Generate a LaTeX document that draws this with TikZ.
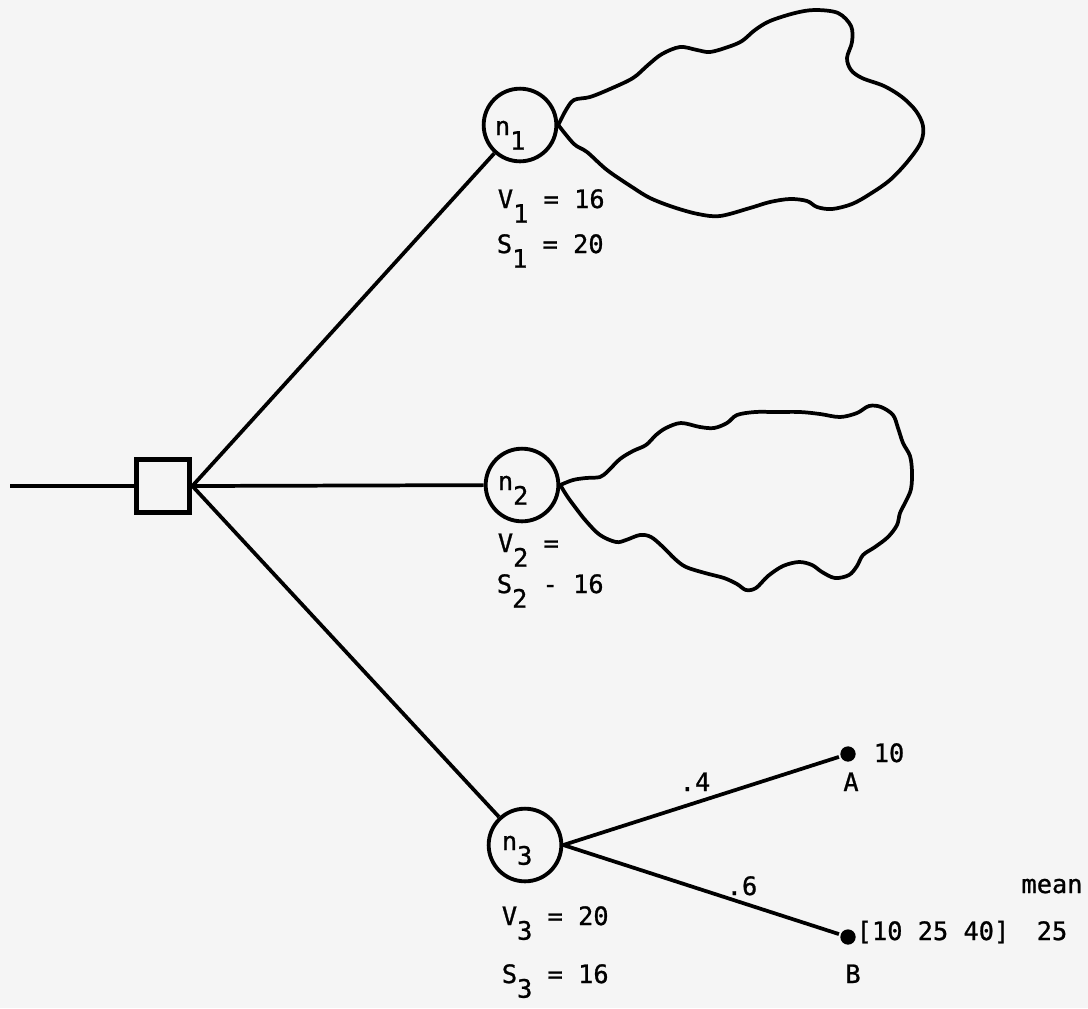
\documentclass[tikz,border=0pt]{standalone}
\usepackage{fontspec}
\newfontfamily\typefont{DejaVu Sans Mono}[FakeBold=1]
\newcommand{\dn}[1]{\raisebox{-11pt}{#1}}
\definecolor{paper}{RGB}{245,245,245}

\tikzset{every picture/.style={line width=2.8pt}}
\tikzset{
  decision/.style={draw, rectangle, line width=4pt, minimum size=40pt, inner sep=0pt},
  chance/.style={draw, circle, line width=2.9pt, minimum size=54.5pt, inner sep=0pt},
  endpt/.style={circle, fill=black, minimum size=11.5pt, inner sep=0pt},
  lbl/.style={font=\typefont\fontsize{19}{22}\selectfont, inner sep=0pt, anchor=base west},
  clbl/.style={lbl, anchor=base},
}

\begin{document}
\begin{tikzpicture}[x=0.75pt,y=0.75pt,yscale=-1]
%set diagram as the page, 1088 x 1008
\fill [paper] (0,0) rectangle (1088,1008);
\useasboundingbox (0,0) rectangle (1088,1008);

%Shape: Square
\node [decision] (dec) at (163,486) {};
%Shape: Circle
\node [chance] (n1) at (520,125) {};
%Shape: Circle
\node [chance] (n2) at (522,485) {};
%Shape: Circle
\node [chance] (n3) at (525,845) {};
%Shape: Dots
\node [endpt] (a) at (848,754) {};
\node [endpt] (b) at (848,937) {};
\coordinate (in) at (10,486);

%Straight Lines
\draw (in) -- (dec);
\draw (dec.east) -- (n1);
\draw (dec.east) -- (n2);
\draw (dec.east) -- (n3);
\draw (n3.east) -- (a);
\draw (n3.east) -- (b);

%Curve Lines
\draw plot [smooth, tension=0.55] coordinates {(n1.east) (566,110) (574,100) (590,97)
  (610,89) (633,78) (648,65) (662,54) (680,47) (697,50) (710,52) (728,47) (742,41)
  (755,30) (770,21) (795,13) (815,10) (838,13) (851,26) (852,42) (847,58) (851,70)
  (862,78) (884,86) (902,97) (916,111) (923,126) (921,142) (908,161) (890,180)
  (870,194) (852,204) (832,209) (817,207) (807,201) (790,199) (770,202) (750,208)
  (720,216) (698,214) (673,207) (650,198) (632,187) (607,170) (587,152) (574,144)
  (n1.east)};
%Curve Lines
\draw plot [smooth, tension=0.55] coordinates {(n2.east) (573,480) (586,478) (600,477)
  (608,471) (620,459) (633,451) (646,445) (656,435) (666,428) (681,423) (700,427)
  (714,428) (727,423) (737,415) (755,412) (775,412) (800,412) (820,414) (840,417)
  (857,413) (869,406) (881,407) (893,415) (898,428) (903,443) (910,456) (912,472)
  (911,489) (906,501) (900,513) (897,525) (888,537) (875,547) (863,555) (857,566)
  (849,575) (835,578) (822,572) (812,565) (799,562) (783,566) (768,576) (756,588)
  (746,590) (737,584) (724,578) (705,573) (686,567) (675,559) (663,547) (651,537)
  (640,535) (626,540) (616,542) (600,535) (586,521) (575,507) (567,496)
  (n2.east)};

% Text Node
\node [lbl] (n1lab) at (493,135) {n\dn{1}};
% Text Node
\node [lbl] (n2lab) at (496,490) {n\dn{2}};
% Text Node
\node [lbl] (n3lab) at (500,850) {n\dn{3}};
% Text Node
\node [lbl] (v1) at (496,208) {V\dn{1} = 16};
% Text Node
\node [lbl] (s1) at (495,253) {S\dn{1} = 20};
% Text Node
\node [lbl] (v2) at (496,552) {V\dn{2} =};
% Text Node
\node [lbl] (s2) at (495,593) {S\dn{2} - 16};
% Text Node
\node [lbl] (v3) at (500,925) {V\dn{3} = 20};
% Text Node
\node [lbl] (s3) at (500,983) {S\dn{3} = 16};
% Text Node
\node [clbl] (pa) at (695,791) {.4};
% Text Node
\node [clbl] (pb) at (742,895) {.6};
% Text Node
\node [clbl] (alab) at (851,791) {A};
% Text Node
\node [clbl] (blab) at (853,983) {B};
% Text Node
\node [clbl] (aval) at (889,762) {10};
% Text Node
\node [clbl] (bval) at (933,940) {[10 25 40]};
% Text Node
\node [clbl] (mean) at (1052,893) {mean};
% Text Node
\node [clbl] (bmean) at (1052,940) {25};

\end{tikzpicture}
\end{document}
